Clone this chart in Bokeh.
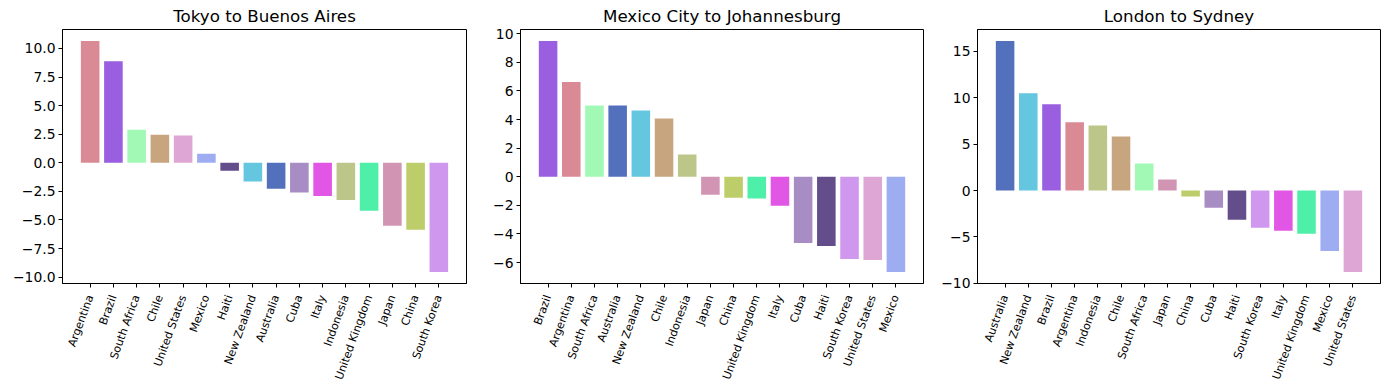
import math
from bokeh.plotting import figure
from bokeh.layouts import row
from bokeh.models import FactorRange, Range1d, FixedTicker, ColumnDataSource
from bokeh.embed import file_html
from bokeh.resources import INLINE

# ---- data ----
country_colors = {
    "Argentina": "#d98a95",
    "Brazil": "#995fe0",
    "South Africa": "#a2f9b5",
    "Chile": "#c7a57f",
    "United States": "#dea6d5",
    "Mexico": "#9eadf2",
    "Haiti": "#634e8b",
    "New Zealand": "#65c6df",
    "Australia": "#5270bc",
    "Cuba": "#a78dc4",
    "Italy": "#e256e6",
    "Indonesia": "#bcc688",
    "United Kingdom": "#4eefa8",
    "Japan": "#d195b3",
    "China": "#bdcd6a",
    "South Korea": "#cf97ed",
}

titles = ["Tokyo to Buenos Aires", "Mexico City to Johannesburg", "London to Sydney"]

cats_1 = ["Argentina", "Brazil", "South Africa", "Chile", "United States", "Mexico",
          "Haiti", "New Zealand", "Australia", "Cuba", "Italy", "Indonesia",
          "United Kingdom", "Japan", "China", "South Korea"]
vals_1 = [10.65, 8.88, 2.9, 2.46, 2.39, 0.8, -0.7, -1.64, -2.28, -2.6, -2.9, -3.25,
          -4.2, -5.5, -5.85, -9.55]

cats_2 = ["Brazil", "Argentina", "South Africa", "Australia", "New Zealand", "Chile",
          "Indonesia", "Japan", "China", "United Kingdom", "Italy", "Cuba", "Haiti",
          "South Korea", "United States", "Mexico"]
vals_2 = [9.49, 6.62, 4.99, 4.98, 4.64, 4.08, 1.55, -1.26, -1.47, -1.53, -2.03, -4.63,
          -4.85, -5.76, -5.83, -6.66]

cats_3 = ["Australia", "New Zealand", "Brazil", "Argentina", "Indonesia", "Chile",
          "South Africa", "Japan", "China", "Cuba", "Haiti", "South Korea", "Italy",
          "United Kingdom", "Mexico", "United States"]
vals_3 = [16.12, 10.5, 9.3, 7.36, 7.03, 5.84, 2.92, 1.19, -0.65, -1.84, -3.14, -4.0,
          -4.33, -4.65, -6.5, -8.77]

yticks_1 = [-10.0, -7.5, -5.0, -2.5, 0.0, 2.5, 5.0, 7.5, 10.0]
yticks_2 = [-6, -4, -2, 0, 2, 4, 6, 8, 10]
yticks_3 = [-10, -5, 0, 5, 10, 15]
ylabels_1 = ["−10.0", "−7.5", "−5.0", "−2.5", "0.0", "2.5", "5.0", "7.5", "10.0"]
ylabels_2 = ["−6", "−4", "−2", "0", "2", "4", "6", "8", "10"]
ylabels_3 = ["−10", "−5", "0", "5", "10", "15"]

FONT = "DejaVu Sans"


def make_panel(title, cats, vals, yticks, ylabels, left, right, fw):
    lo, hi = min(min(vals), 0), max(max(vals), 0)
    span = hi - lo
    yr = Range1d(lo - 0.05 * span, hi + 0.05 * span)
    xr = FactorRange(factors=cats, range_padding=0.08625, range_padding_units="percent")
    p = figure(x_range=xr, y_range=yr, output_backend="svg", toolbar_location=None,
               frame_width=fw, frame_height=254,
               min_border_left=left, min_border_right=right,
               min_border_top=10, min_border_bottom=10,
               title=title)
    src = ColumnDataSource(dict(x=cats, top=vals, color=[country_colors[c] for c in cats]))
    p.vbar(x="x", top="top", bottom=0, width=0.8, color="color", source=src, line_width=0)

    p.title.text_font = FONT
    p.title.text_font_size = "16.7px"
    p.title.text_font_style = "normal"
    p.title.text_color = "black"
    p.title.align = "center"
    p.title.standoff = 7

    p.xgrid.visible = False
    p.ygrid.visible = False
    p.outline_line_color = "black"
    p.outline_line_width = 1
    p.outline_line_alpha = 1

    ya = p.yaxis[0]
    ya.ticker = FixedTicker(ticks=yticks)
    ya.major_label_overrides = {t: l for t, l in zip(yticks, ylabels)}
    ya.minor_tick_line_color = None
    ya.major_tick_in = 0
    ya.major_tick_out = 4
    ya.major_label_text_font = FONT
    ya.major_label_text_font_size = "13.9px"
    ya.major_label_text_color = "black"
    ya.axis_line_color = "black"
    ya.major_tick_line_color = "black"
    ya.major_label_standoff = 3

    xa = p.xaxis[0]
    xa.major_label_orientation = math.radians(70)
    xa.major_tick_in = 0
    xa.major_tick_out = 4
    xa.major_label_text_font = FONT
    xa.major_label_text_font_size = "11.1px"
    xa.major_label_text_color = "black"
    xa.axis_line_color = "black"
    xa.major_tick_line_color = "black"
    xa.major_label_standoff = 8
    return p


p1 = make_panel(titles[0], cats_1, vals_1, yticks_1, ylabels_1, 62, 5, 404)
p2 = make_panel(titles[1], cats_2, vals_2, yticks_2, ylabels_2, 49, 5, 403)
p3 = make_panel(titles[2], cats_3, vals_3, yticks_3, ylabels_3, 49, 5, 403)

layout = row(p1, p2, p3)
open("out.html", "w").write(file_html(layout, INLINE))
